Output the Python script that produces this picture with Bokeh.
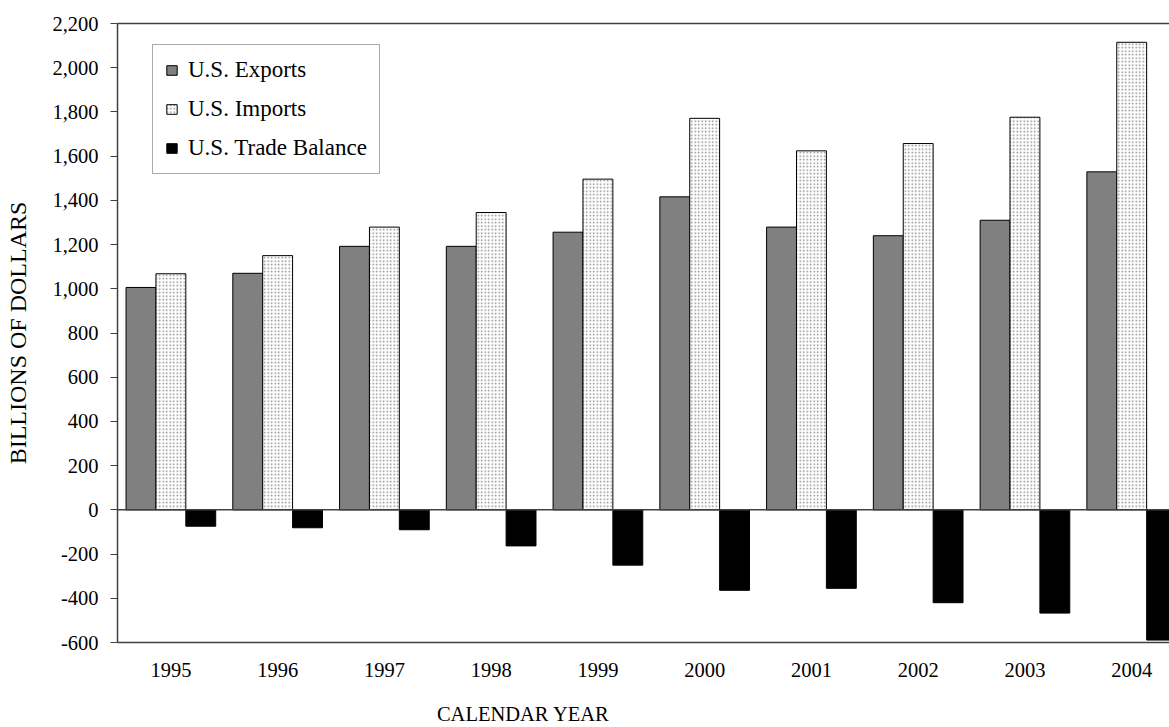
from bokeh.plotting import figure
from bokeh.models import (ColumnDataSource, Range1d, FixedTicker, NumeralTickFormatter,
                          LinearAxis, Legend, LegendItem, Span)
from bokeh.transform import dodge
from bokeh.embed import file_html
from bokeh.resources import INLINE

# U.S. trade in billions of dollars, calendar years 1995-2004
years = ["1995", "1996", "1997", "1998", "1999", "2000", "2001", "2002", "2003", "2004"]
exports = [1006, 1070, 1192, 1192, 1256, 1416, 1279, 1240, 1310, 1529]
imports = [1068, 1150, 1279, 1345, 1496, 1771, 1624, 1657, 1776, 2115]
balance = [-74, -81, -90, -163, -250, -364, -355, -420, -467, -589]
y_ticks = list(range(-600, 2201, 200))

FONT = "Liberation Serif"
AXIS_GREY = "#404040"

pos = [i + 0.5 for i in range(len(years))]
bar_w = 0.28

src = ColumnDataSource(dict(pos=pos, exports=exports, imports=imports, balance=balance))

p = figure(width=1169, height=727, output_backend="svg", toolbar_location=None, title=None,
           x_range=Range1d(0, 9.854), y_range=Range1d(-600, 2200),
           min_border_left=117, min_border_right=0, min_border_top=23, min_border_bottom=85,
           outline_line_color=None, background_fill_color="white", border_fill_color="white")
p.grid.visible = False

r_exp = p.vbar(x=dodge("pos", -bar_w), top="exports", bottom=0, width=bar_w, source=src,
               fill_color="#808080", line_color="black", line_width=1)
r_imp = p.vbar(x="pos", top="imports", bottom=0, width=bar_w, source=src,
               fill_color="white", hatch_pattern="dot", hatch_color="#8a8a8a",
               hatch_scale=3.5, hatch_weight=1, line_color="black", line_width=1)
r_bal = p.vbar(x=dodge("pos", bar_w), top="balance", bottom=0, width=bar_w, source=src,
               fill_color="black", line_color="black", line_width=1)

p.add_layout(Span(location=0, dimension="width", line_color=AXIS_GREY, line_width=1.5))

# value axis
ya = p.yaxis[0]
ya.ticker = FixedTicker(ticks=y_ticks)
ya.formatter = NumeralTickFormatter(format="0,0")
ya.major_tick_out = 7
ya.major_tick_in = 0
ya.minor_tick_line_color = None
ya.major_tick_line_color = AXIS_GREY
ya.axis_line_color = AXIS_GREY
ya.axis_line_width = 1.5
ya.major_label_standoff = 12
ya.major_label_text_font = FONT
ya.major_label_text_font_size = "20.5px"
ya.major_label_text_color = "black"
ya.axis_label = "BILLIONS OF DOLLARS"
ya.axis_label_text_font = FONT
ya.axis_label_text_font_size = "24px"
ya.axis_label_text_font_style = "normal"
ya.axis_label_text_color = "black"
ya.axis_label_standoff = 18

# category axis
xa = p.xaxis[0]
xa.ticker = FixedTicker(ticks=pos)
xa.major_label_overrides = {pv: yr for pv, yr in zip(pos, years)}
xa.major_tick_line_color = None
xa.minor_tick_line_color = None
xa.major_tick_out = 0
xa.major_tick_in = 0
xa.axis_line_color = AXIS_GREY
xa.axis_line_width = 1.5
xa.major_label_standoff = 20
xa.major_label_text_font = FONT
xa.major_label_text_font_size = "20.5px"
xa.major_label_text_color = "black"
xa.major_label_text_line_height = 0.8

# category axis title, set left of centre under the years
title_x = 3.8
xt = LinearAxis(ticker=FixedTicker(ticks=[title_x]),
                major_label_overrides={title_x: "CALENDAR YEAR"},
                axis_line_color=None, major_tick_line_color=None, minor_tick_line_color=None,
                major_tick_out=0, major_tick_in=0, major_label_standoff=23,
                major_label_text_font=FONT, major_label_text_font_size="20.5px",
                major_label_text_line_height=0.8, major_label_text_color="black")
p.add_layout(xt, "below")

# top frame line
top = LinearAxis(ticker=FixedTicker(ticks=[]), axis_line_color=AXIS_GREY, axis_line_width=1.5,
                 major_tick_line_color=None, minor_tick_line_color=None,
                 major_label_text_color=None)
p.add_layout(top, "above")

legend = Legend(items=[LegendItem(label="U.S. Exports", renderers=[r_exp]),
                       LegendItem(label="U.S. Imports", renderers=[r_imp]),
                       LegendItem(label="U.S. Trade Balance", renderers=[r_bal])],
                location=(35, 468), margin=0, padding=12, spacing=13,
                glyph_width=13, glyph_height=12, label_height=24, label_standoff=10,
                label_text_font=FONT, label_text_font_size="23px", label_text_color="black",
                border_line_color="#555555", border_line_width=1,
                background_fill_color="white", background_fill_alpha=1)
p.add_layout(legend)

open("out.html", "w").write(file_html(p, INLINE))
